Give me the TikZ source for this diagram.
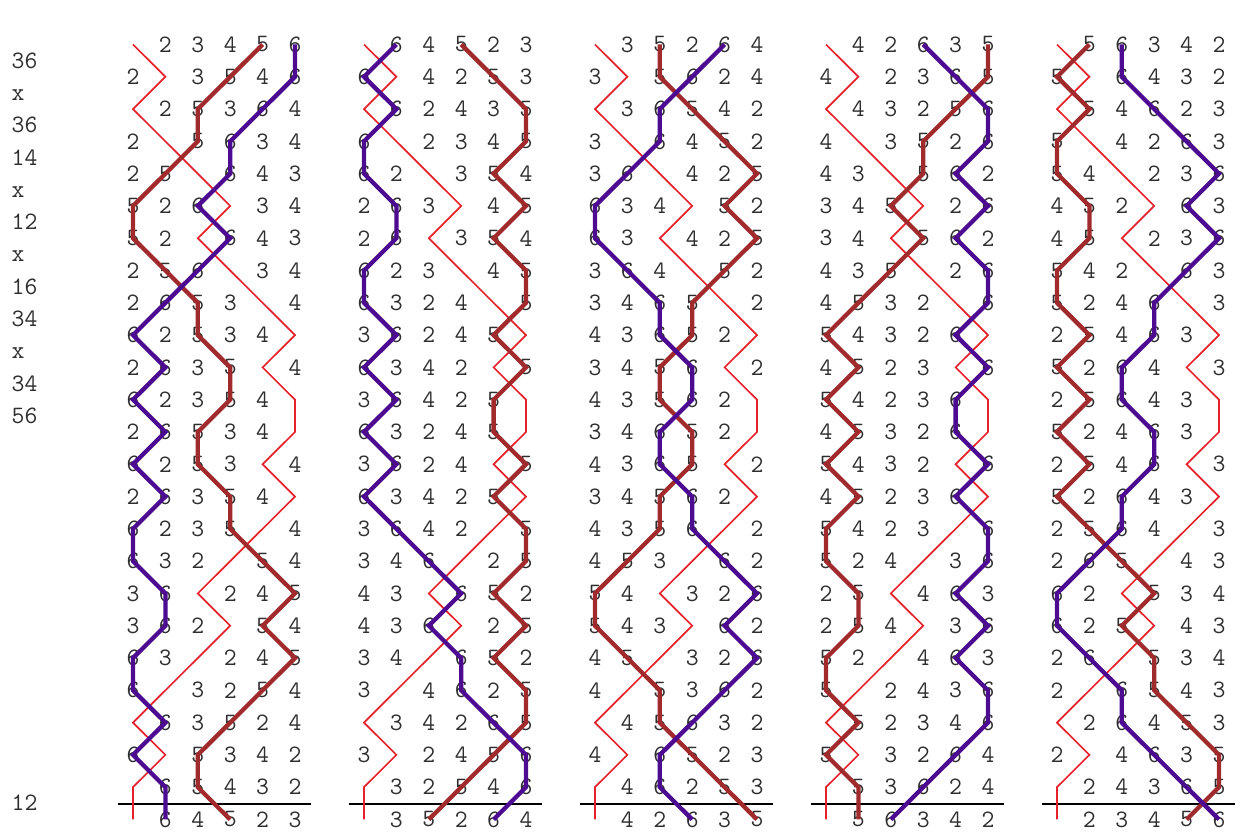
\documentclass[tikz,border=0pt]{standalone}
\definecolor{bellred}{HTML}{E5222B}
\definecolor{bellbrown}{HTML}{A02A2C}
\definecolor{bellpurple}{HTML}{4C0B90}
\definecolor{ink}{HTML}{2E2E2E}
\def\sethead#1#2#3#4#5#6{\gdef\hA{#1}\gdef\hB{#2}\gdef\hC{#3}\gdef\hD{#4}\gdef\hE{#5}\gdef\hF{#6}}
\def\hmap#1{\ifcase#1 \or\hA\or\hB\or\hC\or\hD\or\hE\or\hF\fi}
\def\mkbells#1#2#3#4#5#6{\edef\bells{\hmap#1,\hmap#2,\hmap#3,\hmap#4,\hmap#5,\hmap#6}}
\tikzset{
  digit/.style={font=\ttfamily\fontsize{25}{30}\selectfont, text=ink, inner sep=0pt, anchor=center},
  pnlabel/.style={font=\ttfamily\fontsize{25}{30}\selectfont, text=ink, inner sep=0pt, anchor=base west},
  treble/.style={draw=bellred, line width=1.7pt},
  fiveline/.style={draw=bellbrown, line width=4.3pt},
  sixline/.style={draw=bellpurple, line width=4.3pt},
  leadbar/.style={draw=black, line width=2.2pt}
}
\begin{document}
\begin{tikzpicture}[x=1pt,y=-1pt]
\useasboundingbox (0,0) rectangle (1242,834);
\foreach \k/\t [count=\i] in {1/36,2/x,3/36,4/14,5/x,6/12,7/x,8/16,9/34,10/x,11/34,12/56,24/12}
  \node[pnlabel] (pn\i) at (11.5,{44.5+32.29*(\k-0.5)+7.6}) {\t};
\foreach \lead/\head in {0/123456,1/164523,2/135264,3/142635,4/156342} {
  \expandafter\sethead\head
  \gdef\pathA{}\gdef\pathE{}\gdef\pathF{}
  \foreach \r/\row in {1/123456,2/213546,3/125364,4/215634,5/251643,6/526134,7/521643,8/256134,9/265314,10/625341,11/263514,12/623541,13/265341,14/625314,15/263541,16/623514,17/632154,18/361245,19/362154,20/631245,21/613254,22/163524,23/615342,24/165432,25/164523} {
    \expandafter\mkbells\row
    \foreach \b [count=\p] in \bells {
      \pgfmathsetmacro\X{133+231*\lead+32.4*(\p-1)}
      \pgfmathsetmacro\Y{44.5+32.29*(\r-1)}
      \ifnum\b=1 \xdef\pathA{\pathA(\X,\Y)}\else
        \node[digit] (d\lead-\r-\p) at (\X,\Y) {\b};
        \ifnum\b=5 \xdef\pathE{\pathE(\X,\Y)}\fi
        \ifnum\b=6 \xdef\pathF{\pathF(\X,\Y)}\fi
      \fi
    }
  }
  \pgfmathsetmacro\XL{133+231*\lead-15.5}
  \pgfmathsetmacro\XR{133+231*\lead+162+15.5}
  \coordinate (barL\lead) at (\XL,804);
  \coordinate (barR\lead) at (\XR,804);
  \draw[leadbar] (barL\lead) -- (barR\lead);
  \edef\tmp{\noexpand\draw[treble] plot coordinates {\pathA};
    \noexpand\draw[fiveline] plot coordinates {\pathE};
    \noexpand\draw[sixline] plot coordinates {\pathF};}
  \tmp
}
\end{tikzpicture}
\end{document}
